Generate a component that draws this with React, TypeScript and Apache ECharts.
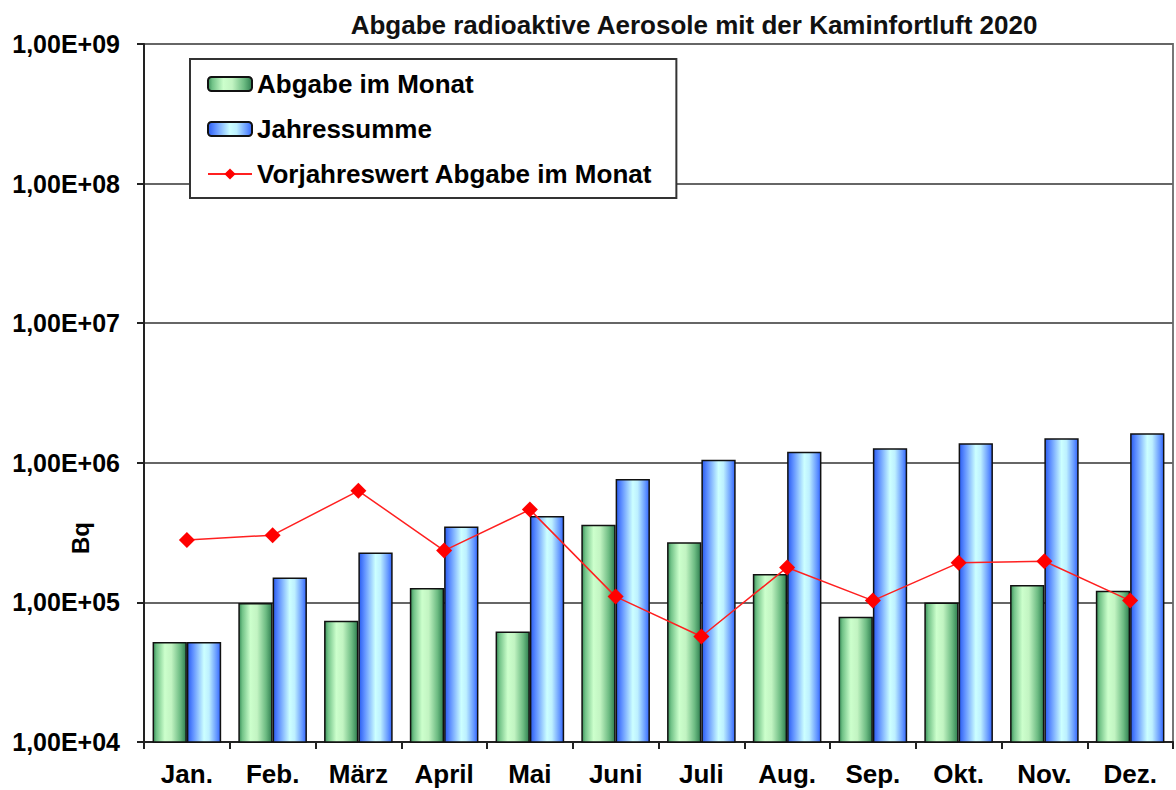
import React, { useEffect, useRef } from "react";
import * as echarts from "echarts";

const months = ["Jan.", "Feb.", "März", "April", "Mai", "Juni", "Juli", "Aug.", "Sep.", "Okt.", "Nov.", "Dez."];
const monthly = [5.2e4, 9.9e4, 7.4e4, 1.27e5, 6.2e4, 3.6e5, 2.7e5, 1.6e5, 7.9e4, 1.0e5, 1.33e5, 1.21e5];
const annual = [5.2e4, 1.51e5, 2.28e5, 3.5e5, 4.16e5, 7.65e5, 1.05e6, 1.2e6, 1.27e6, 1.38e6, 1.5e6, 1.63e6];
const previousYear = [2.8e5, 3.03e5, 6.3e5, 2.35e5, 4.62e5, 1.1e5, 5.7e4, 1.78e5, 1.03e5, 1.92e5, 1.97e5, 1.03e5];

const seriesNames = ["Abgabe im Monat", "Jahressumme", "Vorjahreswert Abgabe im Monat"];
const titleText = "Abgabe radioaktive Aerosole mit der Kaminfortluft 2020";
const axisName = "Bq";

const FONT = "'Liberation Sans', Arial, sans-serif";

export default function App() {
  const ref = useRef<HTMLDivElement>(null);
  useEffect(() => {
    if (!ref.current) return;
    const chart = echarts.init(ref.current, null, { renderer: "svg" });
    const green = new echarts.graphic.LinearGradient(0, 0, 1, 0, [
      { offset: 0, color: "#3a8f5a" },
      { offset: 0.1, color: "#72c388" },
      { offset: 0.35, color: "#ccffcc" },
      { offset: 0.55, color: "#c2f4c2" },
      { offset: 0.82, color: "#6cbb82" },
      { offset: 1, color: "#2f7f50" },
    ]);
    const blue = new echarts.graphic.LinearGradient(0, 0, 1, 0, [
      { offset: 0, color: "#2a5cf0" },
      { offset: 0.15, color: "#5b8cff" },
      { offset: 0.5, color: "#ccffff" },
      { offset: 0.65, color: "#bdf0ff" },
      { offset: 0.88, color: "#6699ff" },
      { offset: 1, color: "#3366ff" },
    ]);
    chart.setOption({
      animation: false,
      backgroundColor: "#ffffff",
      textStyle: { fontFamily: FONT },
      grid: {
        left: 144,
        right: 3,
        top: 44,
        bottom: 48,
        show: true,
        borderColor: "#777777",
        borderWidth: 2,
        backgroundColor: "transparent",
      },
      legend: {
        orient: "vertical",
        left: 190,
        top: 59,
        backgroundColor: "#ffffff",
        borderColor: "#333333",
        borderWidth: 2,
        padding: [12, 24, 11, 17],
        itemWidth: 44,
        itemHeight: 14,
        itemGap: 19,
        data: seriesNames,
        textStyle: { fontFamily: FONT, fontSize: 26, fontWeight: "bold", color: "#000000" },
      },
      graphic: [
        {
          type: "text",
          x: 694,
          y: 25,
          style: {
            text: titleText,
            font: "bold 26px " + FONT,
            fill: "#111111",
            align: "center",
            verticalAlign: "middle",
          },
        },
        {
          type: "text",
          x: 80,
          y: 538,
          rotation: Math.PI / 2,
          style: {
            text: axisName,
            font: "bold 24px " + FONT,
            fill: "#000000",
            align: "center",
            verticalAlign: "middle",
          },
        },
      ],
      xAxis: {
        type: "category",
        data: months,
        axisLine: { lineStyle: { color: "#222222", width: 2 } },
        axisTick: { show: true, length: 7, lineStyle: { color: "#222222", width: 2 } },
        axisLabel: { fontFamily: FONT, fontSize: 26, fontWeight: "bold", color: "#000000", margin: 19 },
      },
      yAxis: {
        type: "log",
        logBase: 10,
        min: 1e4,
        max: 1e9,
        axisLine: { show: true, lineStyle: { color: "#222222", width: 2 } },
        axisTick: { show: true, length: 7, lineStyle: { color: "#222222", width: 2 } },
        splitLine: { show: true, lineStyle: { color: "#666666", width: 2 } },
        axisLabel: {
          fontFamily: FONT,
          fontSize: 25,
          fontWeight: "bold",
          color: "#000000",
          margin: 24,
          formatter: (v: number) => {
            const e = Math.round(Math.log10(v));
            return "1,00E+" + String(e).padStart(2, "0");
          },
        },
      },
      series: [
        {
          name: seriesNames[0],
          type: "bar",
          data: monthly,
          barGap: "0%",
          barCategoryGap: "20%",
          itemStyle: { color: green, borderColor: "#111111", borderWidth: 1.5 },
        },
        {
          name: seriesNames[1],
          type: "bar",
          data: annual,
          itemStyle: { color: blue, borderColor: "#111111", borderWidth: 1.5 },
        },
        {
          name: seriesNames[2],
          type: "line",
          data: previousYear,
          symbol: "diamond",
          symbolSize: 16,
          lineStyle: { color: "#ff2020", width: 1.5 },
          itemStyle: { color: "#ff0000" },
          z: 5,
        },
      ],
    });
    return () => chart.dispose();
  }, []);
  return (
    <div
      ref={ref}
      style={{ position: "fixed", left: 0, top: 0, width: 1176, height: 790, background: "#fff" }}
    />
  );
}
